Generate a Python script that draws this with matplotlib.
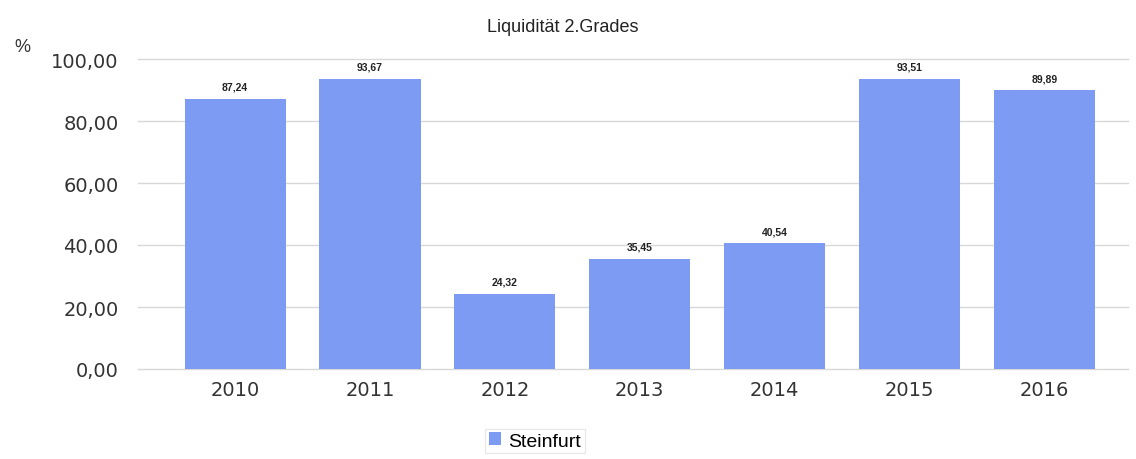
import matplotlib.pyplot as plt
from matplotlib.ticker import FuncFormatter

years = ['2010', '2011', '2012', '2013', '2014', '2015', '2016']
values = [87.24, 93.67, 24.32, 35.45, 40.54, 93.51, 89.89]
series_name = 'Steinfurt'
bar_color = '#7d9bf2'

fig = plt.figure(figsize=(11.36, 4.6), dpi=100)
ax = fig.add_axes([138 / 1136, 1 - 370 / 460, (1128 - 138) / 1136, 310 / 460])

xs = list(range(len(years)))
bars = ax.bar(xs, values, width=0.75, color=bar_color, label=series_name, zorder=2)

for x, v in zip(xs, values):
    ax.text(x, v + 2.3, f'{v:.2f}'.replace('.', ','), ha='center', va='bottom',
            fontsize=7.5, family='Liberation Sans', fontweight='bold', color='#222222')

ax.set_xlim(-0.72, 6.62)
ax.set_ylim(0, 100)
ax.set_yticks([0, 20, 40, 60, 80, 100])
ax.yaxis.set_major_formatter(FuncFormatter(lambda v, p: f'{v:.2f}'.replace('.', ',')))
ax.set_xticks(xs)
ax.set_xticklabels(years)
ax.grid(axis='y', color='#d8d8d8', linewidth=1, zorder=0)
for line in ax.get_ygridlines():
    line.set_clip_on(False)
for s in ax.spines.values():
    s.set_visible(False)
ax.tick_params(axis='both', length=0, labelsize=14, colors='#333333')
ax.tick_params(axis='y', pad=14)
ax.tick_params(axis='x', pad=8)

fig.text(563 / 1136, 1 - 28 / 460, 'Liquidität 2.Grades', ha='center', va='center',
         fontsize=13, family='Liberation Sans', color='#222222')
fig.text(22 / 1136, 1 - 48 / 460, '%', ha='center', va='center',
         fontsize=13, family='Liberation Sans', color='#333333')

leg = fig.legend(handles=[bars], labels=[series_name], loc='center',
                 bbox_to_anchor=(535 / 1136, 1 - 442 / 460), frameon=True,
                 prop={'family': 'Liberation Sans', 'size': 14},
                 handlelength=0.6, handleheight=0.6, handletextpad=0.4,
                 borderpad=0.2, fancybox=False)
leg.get_frame().set_edgecolor('#e0e0e0')
leg.get_frame().set_linewidth(0.8)

fig.savefig('out.png', dpi=100)
